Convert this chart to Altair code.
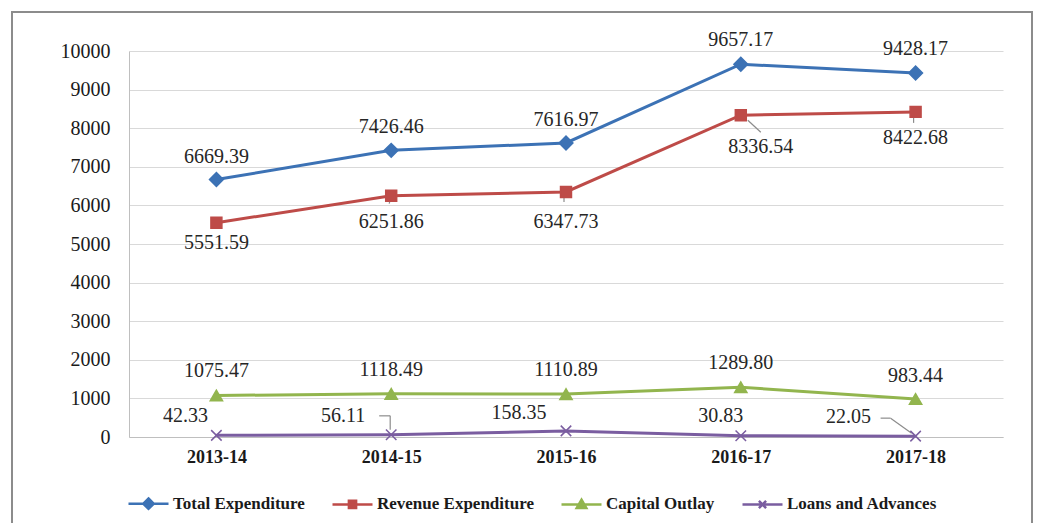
import altair as alt
import pandas as pd

years = ["2013-14", "2014-15", "2015-16", "2016-17", "2017-18"]
series = ["Total Expenditure", "Revenue Expenditure", "Capital Outlay", "Loans and Advances"]
total = [6669.39, 7426.46, 7616.97, 9657.17, 9428.17]
revenue = [5551.59, 6251.86, 6347.73, 8336.54, 8422.68]
capital = [1075.47, 1118.49, 1110.89, 1289.80, 983.44]
loans = [42.33, 56.11, 158.35, 30.83, 22.05]

colors = ["#3C72B5", "#BE4B48", "#92B54E", "#7A5DA0"]

# label offsets in pixels (style only)
label_dx = {
    "Total Expenditure": [0, 0, 0, 0, 0],
    "Revenue Expenditure": [0, 0, 0, 20, 0],
    "Capital Outlay": [0, 0, 0, 0, 0],
    "Loans and Advances": [-31, -48, -47, -20, -67],
}
label_dy = {
    "Total Expenditure": [-23, -23, -23, -24, -24],
    "Revenue Expenditure": [20, 26, 30, 32, 26],
    "Capital Outlay": [-24, -24, -24, -24, -23],
    "Loans and Advances": [-19, -19, -18, -20, -19],
}

# leader-line segments, pixel offsets from the point (style only)
leaders = [
    ("Loans and Advances", "2014-15", (-12, -19, -1, -19)),
    ("Loans and Advances", "2014-15", (-1, -19, -1, -5)),
    ("Loans and Advances", "2017-18", (-35, -18, -25, -18)),
    ("Loans and Advances", "2017-18", (-25, -18, -4, -3)),
    ("Revenue Expenditure", "2016-17", (7, 5, 20, 17)),
    ("Revenue Expenditure", "2017-18", (-2, 4, -2, 11)),
    ("Revenue Expenditure", "2015-16", (-2, 4, -2, 10)),
    ("Revenue Expenditure", "2014-15", (-1, 4, -2, 8)),
]

PLOT_H = 386
Y_MAX = 10000

rows = []
for s, vals in zip(series, [total, revenue, capital, loans]):
    for i, (yr, v) in enumerate(zip(years, vals)):
        rows.append({"year": yr, "series": s, "value": v,
                     "dx": label_dx[s][i], "dy": label_dy[s][i]})
df = pd.DataFrame(rows)

X_PATH = "M-1,-1L1,1M-1,1L1,-1"
chart_shapes = ["diamond", "square", "triangle-up", X_PATH]
chart_sizes = [190, 120, 150, 110]

legend_paths = {
    "Total Expenditure": "M-1,0L1,0M0,-0.26L0.26,0L0,0.26L-0.26,0Z",
    "Revenue Expenditure": "M-1,0L1,0M-0.18,-0.18L0.18,-0.18L0.18,0.18L-0.18,0.18Z",
    "Capital Outlay": "M-1,0L1,0M0,-0.24L0.24,0.18L-0.24,0.18Z",
    "Loans and Advances": "M-1,0L1,0M-0.18,-0.18L0.18,0.18M-0.18,0.18L0.18,-0.18",
}
expr = "'" + legend_paths[series[-1]] + "'"
for s in reversed(series[:-1]):
    expr = f"datum.value === '{s}' ? '{legend_paths[s]}' : " + expr

FONT = "Liberation Serif"

x_enc = alt.X("year:N", sort=years,
              scale=alt.Scale(type="point", padding=0.5),
              axis=alt.Axis(title=None, labelAngle=0, ticks=False, grid=False,
                            labelFont=FONT, labelFontWeight="bold", labelFontSize=18,
                            labelColor="#1a1a1a", labelPadding=11,
                            domainColor="#bfbfbf", domainWidth=1))
y_scale = alt.Scale(domain=[0, Y_MAX], nice=False, zero=True)
y_axis = alt.Axis(title=None, values=list(range(0, 10001, 1000)), ticks=False,
                  format="d",
                  labelFont=FONT, labelFontSize=20, labelColor="#1a1a1a",
                  labelPadding=19, gridColor="#d9d9d9", gridWidth=1,
                  domainColor="#bfbfbf", domainWidth=1)
y_enc = alt.Y("value:Q", scale=y_scale, axis=y_axis)

legend = alt.Legend(
    orient="none", legendX=-2, legendY=431, direction="horizontal", title=None,
    symbolSize=1600, symbolStrokeWidth=2.5, labelFont=FONT, labelFontWeight="bold",
    labelFontSize=17, labelColor="#1a1a1a", labelOffset=3, columnPadding=22, padding=0,
    symbolType={"expr": expr},
    symbolFillColor={"expr": "scale('color', datum.value)"},
    symbolOpacity=1,
)

color_scale = alt.Scale(domain=series, range=colors)

lines = alt.Chart(df).mark_line(strokeWidth=3).encode(
    x=x_enc, y=y_enc,
    color=alt.Color("series:N", scale=color_scale, legend=legend),
    detail="series:N",
)

leader_layers = []
for s, yr, (x1, y1, x2, y2) in leaders:
    leader_layers.append(
        alt.Chart(df).transform_filter(
            (alt.datum.series == s) & (alt.datum.year == yr)
        ).mark_rule(color="#8c8c8c", strokeWidth=1.2,
                    xOffset=x1, yOffset=y1, x2Offset=x2, y2Offset=y2).encode(
            x=x_enc, y=y_enc, x2="year:N", y2="value:Q"
        )
    )

point_layers = []
for s, c, shp, sz in zip(series, colors, chart_shapes, chart_sizes):
    point_layers.append(
        alt.Chart(df).transform_filter(alt.datum.series == s).mark_point(
            filled=True, opacity=1, shape=shp, size=sz, fill=c, stroke=c, strokeWidth=1.5
        ).encode(x=x_enc, y=y_enc)
    )

labels = alt.Chart(df).transform_calculate(
    label_y=f"datum.value - datum.dy * {Y_MAX} / {PLOT_H}"
).mark_text(font=FONT, fontSize=20, color="#262626",
            align="center", baseline="middle").encode(
    x=x_enc,
    y=alt.Y("label_y:Q", scale=y_scale, axis=y_axis),
    text=alt.Text("value:Q", format=".2f"),
    xOffset=alt.XOffset("dx:Q", scale=None),
)

frame = alt.Chart(pd.DataFrame({"k": [0]})).mark_rect(
    fillOpacity=0, stroke="#8c8c8c", strokeWidth=2
).encode(
    x=alt.value(-117), x2=alt.value(903), y=alt.value(-39), y2=alt.value(482)
)

chart = alt.layer(frame, lines, *leader_layers, *point_layers, labels).properties(
    width=874, height=PLOT_H,
    autosize=alt.AutoSizeParams(type="none"),
    padding={"left": 129, "top": 51, "right": 34, "bottom": 86},
    background="white",
).configure_view(strokeWidth=0)

chart.save("out.html", embed_options={"renderer": "svg", "actions": False})
